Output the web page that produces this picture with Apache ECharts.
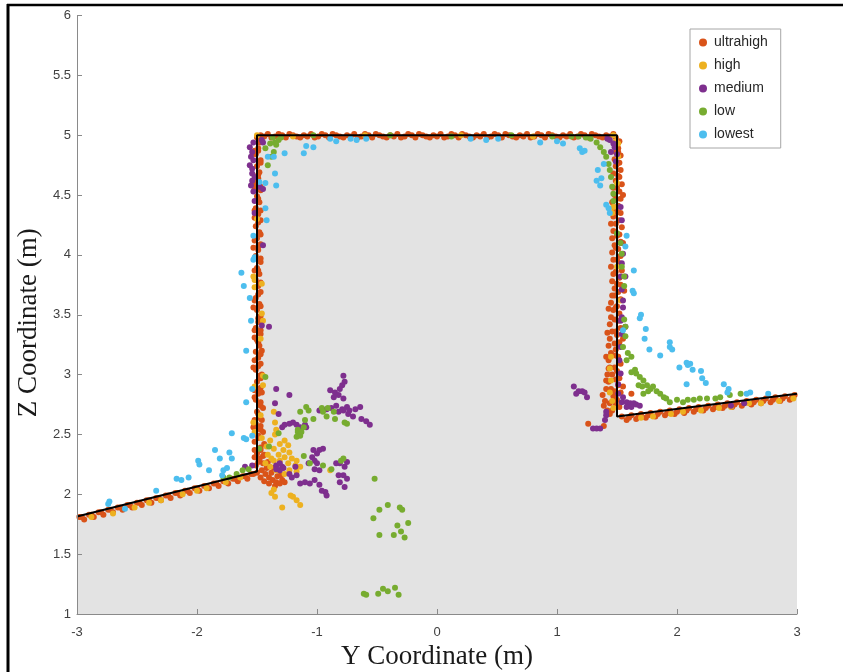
<!DOCTYPE html>
<html>
<head>
<meta charset="utf-8">
<script src="https://cdn.jsdelivr.net/npm/echarts@6/dist/echarts.min.js"></script>
<style>
  html, body { margin: 0; padding: 0; background: #fff; }
  #chart { width: 843px; height: 672px; }
</style>
</head>
<body>
<div id="chart"></div>
<script>
// Detection levels shown in the legend, in drawing order
const seriesNames = ['ultrahigh', 'high', 'medium', 'low', 'lowest'];
const seriesColors = ['#D95319', '#EDB120', '#7E2F8E', '#77AC30', '#4DBEEE'];

// Surface profile (Y, Z) in metres
const outlineY = [-3, -1.5, -1.5, 1.5, 1.5, 3];
const outlineZ = [1.815, 2.19, 5.0, 5.0, 2.65, 2.84];
const floorZ = 1;

// Axis ticks
const yTicks = [-3, -2, -1, 0, 1, 2, 3];
const zTicks = [1, 1.5, 2, 2.5, 3, 3.5, 4, 4.5, 5, 5.5, 6];

// Measured points [Y, Z]
const ultrahigh = [
  // left slope
  [-2.98,1.81],[-2.90,1.83],[-2.82,1.85],[-2.74,1.87],[-2.66,1.89],[-2.58,1.91],[-2.50,1.93],[-2.42,1.95],[-2.34,1.97],[-2.26,1.99],
  [-2.18,2.01],[-2.10,2.03],[-2.02,2.05],[-1.94,2.07],[-1.86,2.09],[-1.78,2.11],[-1.70,2.13],[-1.62,2.15],[-1.55,2.17],
  [-2.94,1.79],[-2.86,1.81],[-2.78,1.83],[-2.70,1.85],[-2.62,1.87],[-2.54,1.89],[-2.46,1.91],[-2.38,1.93],[-2.30,1.95],[-2.22,1.97],
  [-2.14,1.99],[-2.06,2.01],[-1.98,2.03],[-1.90,2.05],[-1.82,2.07],[-1.74,2.09],[-1.66,2.11],[-1.58,2.13],
  [-2.96,1.81],[-2.88,1.83],[-2.80,1.85],[-2.72,1.87],[-2.64,1.89],[-2.56,1.91],[-2.48,1.93],[-2.40,1.95],[-2.32,1.97],[-2.24,1.99],
  [-2.16,2.01],[-2.08,2.03],[-2.00,2.05],[-1.92,2.07],[-1.84,2.09],[-1.76,2.11],[-1.68,2.13],[-1.60,2.15],
  // left wall
  [-1.51,2.24],[-1.48,2.29],[-1.50,2.34],[-1.47,2.39],[-1.52,2.44],[-1.49,2.49],[-1.47,2.54],[-1.51,2.59],[-1.48,2.64],[-1.50,2.69],
  [-1.47,2.74],[-1.51,2.79],[-1.49,2.84],[-1.47,2.89],[-1.50,2.94],[-1.48,2.99],[-1.51,3.04],[-1.47,3.09],[-1.49,3.14],[-1.51,3.19],
  [-1.48,3.24],[-1.50,3.29],[-1.47,3.34],[-1.51,3.39],[-1.49,3.44],[-1.47,3.49],[-1.50,3.54],[-1.48,3.59],[-1.51,3.64],[-1.47,3.69],
  [-1.49,3.74],[-1.51,3.79],[-1.48,3.84],[-1.50,3.89],[-1.47,3.94],[-1.51,3.99],[-1.49,4.04],[-1.47,4.09],[-1.50,4.14],[-1.48,4.19],
  [-1.51,4.24],[-1.47,4.29],[-1.49,4.34],[-1.51,4.39],[-1.48,4.44],[-1.50,4.49],[-1.47,4.54],[-1.51,4.59],[-1.49,4.64],[-1.48,4.69],
  [-1.50,4.74],[-1.47,4.79],[-1.51,4.84],[-1.49,4.89],[-1.48,4.94],[-1.50,4.98],
  [-1.49,2.27],[-1.47,2.37],[-1.49,2.47],[-1.47,2.57],[-1.49,2.67],[-1.47,2.77],[-1.49,2.87],[-1.47,2.97],[-1.49,3.07],[-1.47,3.17],
  [-1.49,3.27],[-1.47,3.37],[-1.49,3.47],[-1.47,3.57],[-1.49,3.67],[-1.47,3.77],[-1.49,3.87],[-1.47,3.97],[-1.49,4.07],[-1.47,4.17],
  [-1.49,4.27],[-1.47,4.37],[-1.49,4.47],[-1.47,4.57],[-1.49,4.67],[-1.47,4.77],[-1.49,4.87],[-1.47,4.97],
  [-1.45,2.32],[-1.44,2.42],[-1.45,2.52],[-1.46,2.62],[-1.45,2.72],[-1.46,2.85],[-1.46,3.00],[-1.46,3.20],
  [-1.52,2.31],[-1.53,2.56],[-1.52,2.81],[-1.53,3.06],[-1.52,3.31],[-1.53,3.56],[-1.52,3.81],[-1.53,4.06],[-1.52,4.31],[-1.52,4.56],
  [-1.52,2.37],[-1.52,2.62],[-1.52,2.87],[-1.52,3.12],[-1.52,3.37],[-1.52,3.62],[-1.52,3.87],[-1.52,4.12],[-1.52,4.37],[-1.52,4.62],
  [-1.52,4.87],
  // left foot
  [-1.46,2.20],[-1.43,2.17],[-1.40,2.14],[-1.37,2.12],[-1.34,2.10],[-1.31,2.09],[-1.29,2.12],[-1.33,2.15],[-1.38,2.18],[-1.42,2.22],
  [-1.45,2.26],[-1.41,2.27],[-1.36,2.22],[-1.47,2.14],[-1.44,2.11],[-1.40,2.09],[-1.35,2.07],[-1.30,2.16],[-1.27,2.10],[-1.32,2.20],
  [-1.48,2.30],[-1.44,2.33],[-1.50,2.18],[-1.53,2.17],
  // top
  [-1.47,5.00],[-1.41,5.01],[-1.35,4.99],[-1.29,5.00],[-1.23,5.01],[-1.17,4.99],[-1.11,5.00],[-1.05,5.01],[-0.99,4.99],[-0.93,5.00],
  [-0.87,5.01],[-0.81,4.99],[-0.75,5.00],[-0.69,5.01],[-0.63,4.99],[-0.57,5.00],[-0.51,5.01],[-0.45,4.99],[-0.39,5.00],[-0.33,5.01],
  [-0.27,4.99],[-0.21,5.00],[-0.15,5.01],[-0.09,4.99],[-0.03,5.00],[0.03,5.01],[0.09,4.99],[0.15,5.00],[0.21,5.01],[0.27,4.99],
  [0.33,5.00],[0.39,5.01],[0.45,4.99],[0.51,5.00],[0.57,5.01],[0.63,4.99],[0.69,5.00],[0.75,5.01],[0.81,4.99],[0.87,5.00],
  [0.93,5.01],[0.99,4.99],[1.05,5.00],[1.11,5.01],[1.17,4.99],[1.23,5.00],[1.29,5.01],[1.35,4.99],[1.41,5.00],[1.47,5.01],
  [-1.44,4.99],[-1.32,5.01],[-1.20,5.00],[-1.08,4.99],[-0.96,5.01],[-0.84,5.00],[-0.72,4.99],[-0.60,5.01],[-0.48,5.00],[-0.36,4.99],
  [-0.24,5.01],[-0.12,5.00],[0.00,4.99],[0.12,5.01],[0.24,5.00],[0.36,4.99],[0.48,5.01],[0.60,5.00],[0.72,4.99],[0.84,5.01],
  [0.96,5.00],[1.08,4.99],[1.20,5.01],[1.32,5.00],[1.44,4.99],
  [-1.38,4.98],[-1.26,4.98],[-1.14,4.98],[-1.02,4.98],[-0.90,4.98],[-0.78,4.98],[-0.66,4.98],[-0.54,4.98],[-0.42,4.98],[-0.30,4.98],
  [-0.18,4.98],[-0.06,4.98],[0.06,4.98],[0.18,4.98],[0.30,4.98],[0.42,4.98],[0.54,4.98],[0.66,4.98],[0.78,4.98],[0.90,4.98],
  [1.02,4.98],[1.14,4.98],[1.26,4.98],[1.38,4.98],
  // right wall
  [1.46,2.70],[1.44,2.76],[1.47,2.82],[1.45,2.88],[1.43,2.94],[1.46,3.00],[1.44,3.06],[1.43,3.12],[1.45,3.18],[1.43,3.24],
  [1.44,3.30],[1.46,3.36],[1.44,3.42],[1.45,3.48],[1.47,3.54],[1.45,3.60],[1.46,3.66],[1.48,3.72],[1.46,3.78],[1.47,3.84],
  [1.45,3.90],[1.47,3.96],[1.46,4.02],[1.48,4.08],[1.46,4.14],[1.47,4.20],[1.45,4.26],[1.47,4.32],[1.48,4.38],[1.46,4.44],
  [1.48,4.50],[1.47,4.56],[1.49,4.62],[1.47,4.68],[1.49,4.74],[1.48,4.80],[1.49,4.86],[1.48,4.92],[1.49,4.98],
  [1.52,2.73],[1.50,2.79],[1.53,2.85],[1.51,2.91],[1.52,2.97],[1.50,3.03],[1.53,3.09],[1.51,3.15],[1.49,3.21],[1.52,3.27],
  [1.50,3.33],[1.53,3.39],[1.51,3.45],[1.52,3.51],[1.50,3.57],[1.53,3.63],[1.51,3.69],[1.53,3.75],[1.52,3.81],[1.54,3.87],
  [1.52,3.93],[1.53,3.99],[1.51,4.05],[1.53,4.11],[1.52,4.17],[1.54,4.23],[1.52,4.29],[1.53,4.35],[1.51,4.41],[1.53,4.47],
  [1.52,4.53],[1.54,4.59],[1.52,4.65],[1.53,4.71],[1.52,4.77],[1.53,4.83],[1.51,4.89],[1.52,4.95],
  [1.49,2.76],[1.48,2.86],[1.49,2.96],[1.48,3.06],[1.49,3.16],[1.48,3.26],[1.49,3.36],[1.48,3.46],[1.49,3.56],[1.48,3.66],
  [1.50,3.76],[1.49,3.86],[1.50,3.96],[1.49,4.06],[1.50,4.16],[1.49,4.26],[1.50,4.36],[1.49,4.46],[1.50,4.56],[1.51,4.66],
  [1.50,4.76],[1.51,4.86],[1.50,4.94],
  [1.55,2.90],[1.55,3.30],[1.56,3.70],[1.55,4.10],[1.55,4.50],
  [1.40,2.78],[1.38,2.83],[1.41,2.88],[1.39,2.74],[1.42,2.70],[1.44,2.67],[1.41,2.95],[1.43,3.05],
  [1.42,3.00],[1.41,3.15],[1.42,3.35],[1.43,3.55],
  // right slope
  [1.54,2.65],[1.62,2.66],[1.70,2.67],[1.78,2.68],[1.86,2.69],[1.94,2.70],[2.02,2.71],[2.10,2.72],[2.18,2.73],[2.26,2.74],
  [2.34,2.75],[2.42,2.76],[2.50,2.77],[2.58,2.78],[2.66,2.79],[2.74,2.80],[2.82,2.81],[2.90,2.82],[2.98,2.83],
  [1.58,2.62],[1.66,2.63],[1.74,2.64],[1.82,2.65],[1.90,2.66],[1.98,2.67],[2.06,2.68],[2.14,2.69],[2.22,2.70],[2.30,2.71],
  [2.38,2.72],[2.46,2.73],[2.54,2.74],[2.62,2.75],[2.70,2.76],[2.78,2.77],[2.86,2.78],[2.94,2.79],
  [1.60,2.64],[1.68,2.65],[1.76,2.66],[1.84,2.67],[1.92,2.68],[2.00,2.69],[2.08,2.70],[2.16,2.71],[2.24,2.72],[2.32,2.73],
  [2.40,2.74],[2.48,2.75],[2.56,2.76],[2.64,2.77],[2.72,2.78],[2.80,2.79],[2.88,2.80],[2.96,2.81],
  // isolated
  [1.26,2.59],[1.39,2.57],[1.62,2.84]
];

const high = [
  // left slope
  [-2.88,1.81],[-2.70,1.84],[-2.52,1.89],[-2.40,1.93],[-2.30,1.95],[-2.12,2.00],[-2.00,2.03],[-1.92,2.05],[-1.76,2.10],[-1.64,2.14],
  // left wall
  [-1.53,3.82],[-1.52,3.79],[-1.52,3.73],[-1.46,3.76],[-1.45,3.45],[-1.46,3.51],[-1.52,2.52],[-1.53,2.60],[-1.47,2.66],[-1.52,2.90],
  [-1.46,2.47],[-1.50,4.30],[-1.47,3.30],[-1.45,2.99],[-1.45,2.91],[-1.50,5.00],
  // left foot
  [-1.36,2.69],[-1.35,2.60],[-1.34,2.54],[-1.39,2.45],[-1.42,2.40],[-1.36,2.38],[-1.31,2.42],[-1.27,2.45],[-1.24,2.41],[-1.28,2.37],
  [-1.23,2.35],[-1.32,2.33],[-1.27,2.31],[-1.21,2.30],[-1.17,2.28],[-1.14,2.23],[-1.18,2.24],[-1.24,2.26],[-1.31,2.28],[-1.36,2.28],
  [-1.39,2.23],[-1.34,2.20],[-1.23,2.20],[-1.17,2.19],[-1.27,2.17],[-1.38,2.30],[-1.41,2.33],[-1.43,2.26],[-1.35,2.50],
  [-1.38,2.01],[-1.35,1.98],[-1.29,1.89],[-1.20,1.98],[-1.17,1.95],[-1.14,1.91],[-1.22,1.99],[-1.36,2.04],[-0.89,2.20],
  // top
  [-1.20,4.99],[-0.60,5.00],[0.20,5.00],[0.80,4.99],[1.49,4.95],[1.47,5.00],[1.51,4.93],[1.51,4.82],
  // right wall
  [1.47,4.40],[1.46,4.35],[1.53,3.62],[1.45,3.15],[1.44,3.05],[1.45,2.95],[1.44,2.85],[1.46,2.78],[1.47,2.72],[1.50,3.90],[1.50,4.60],
  // right slope
  [1.70,2.64],[1.80,2.65],[1.95,2.67],[2.05,2.69],[2.20,2.70],[2.35,2.72],[2.45,2.73],[2.60,2.76],[2.70,2.76],[2.85,2.78],[2.97,2.80]
];

const medium = [
  // left wall
  [-1.56,4.90],[-1.54,4.86],[-1.55,4.82],[-1.53,4.79],[-1.56,4.75],[-1.54,4.72],[-1.54,4.68],[-1.52,4.65],[-1.54,4.62],[-1.53,4.53],
  [-1.48,4.57],[-1.45,4.55],[-1.46,4.96],[-1.45,4.94],[-1.53,4.94],[-1.52,4.35],[-1.45,4.08],[-1.46,3.41],[-1.40,3.40],[-1.55,4.58],[-1.52,4.45],
  // left foot
  [-1.60,2.23],[-1.54,2.24],
  [-1.34,2.88],[-1.23,2.83],[-1.35,2.76],[-1.32,2.67],
  [-1.29,2.56],[-1.27,2.58],[-1.23,2.59],[-1.20,2.60],[-1.17,2.58],[-1.14,2.56],[-1.10,2.58],[-1.09,2.56],
  [-0.78,2.99],[-0.77,2.94],[-0.79,2.91],[-0.81,2.88],[-0.85,2.85],[-0.89,2.87],[-0.82,2.83],[-0.86,2.81],[-0.78,2.80],
  [-0.98,2.70],[-0.92,2.71],[-0.88,2.72],[-0.84,2.74],[-0.79,2.71],[-0.75,2.73],[-0.73,2.70],[-0.68,2.71],[-0.64,2.73],[-0.70,2.65],
  [-0.63,2.63],[-0.59,2.61],[-0.56,2.58],[-0.82,2.69],[-0.78,2.70],[-0.74,2.67],
  [-1.03,2.37],[-0.98,2.37],[-0.95,2.38],[-1.04,2.31],[-1.00,2.34],[-1.02,2.28],[-1.07,2.26],[-1.00,2.26],[-1.02,2.21],[-0.98,2.20],
  [-0.81,2.26],[-0.77,2.23],[-0.75,2.13],[-0.82,2.16],[-0.77,2.06],[-0.84,2.26],[-0.75,2.27],[-0.78,2.16],[-0.81,2.10],
  [-1.21,2.14],[-1.17,2.16],[-1.14,2.09],[-1.10,2.10],[-1.06,2.09],[-1.02,2.12],[-0.98,2.08],[-0.93,2.02],[-0.92,1.99],[-0.96,2.03],
  [-1.23,2.17],[-1.18,2.23],[-1.29,2.23],[-1.34,2.24],[-1.31,2.26],[-1.28,2.22],[-1.31,2.20],[-1.34,2.21],
  // right wall
  [1.42,4.97],[1.45,4.86],[1.50,4.84],[1.49,4.78],
  [1.44,4.96],[1.47,4.93],[1.48,4.90],[1.53,4.40],[1.54,4.29],[1.53,4.10],[1.55,4.01],[1.57,3.82],[1.55,3.62],[1.54,3.48],[1.57,3.40],
  [1.54,3.93],[1.53,3.82],[1.54,3.71],[1.55,3.56],[1.53,3.45],[1.54,3.34],[1.53,3.23],[1.52,3.12],[1.53,3.01],[1.51,2.92],
  [1.55,2.81],[1.51,2.84],[1.54,2.77],
  // right foot
  [1.58,2.77],[1.61,2.76],[1.64,2.76],[1.66,2.75],[1.69,2.74],[1.58,2.73],[1.62,2.73],
  [1.14,2.90],[1.18,2.86],[1.21,2.86],[1.23,2.85],[1.25,2.81],[1.16,2.84],
  [1.30,2.55],[1.33,2.55],[1.36,2.55],[1.40,2.62],[1.41,2.66],[1.41,2.69],
  [2.45,2.74],[2.56,2.76]
];

const low = [
  // upper left corner
  [-1.39,4.93],[-1.35,4.94],[-1.32,4.96],[-1.34,4.92],[-1.36,4.86],[-1.38,4.82],[-1.41,4.75],[-1.43,4.89],[-1.37,4.98],[-1.30,4.98],
  // top
  [-1.03,5.00],[-0.39,5.00],[0.12,4.99],[0.62,5.00],[0.96,4.99],
  // upper right corner and right wall
  [1.12,4.99],[1.18,4.99],[1.24,4.98],[1.28,4.97],[1.33,4.94],[1.36,4.90],[1.39,4.86],[1.41,4.82],[1.43,4.76],[1.44,4.71],
  [1.45,4.65],[1.46,4.57],[1.47,4.51],[1.47,4.45],[1.50,4.18],[1.53,4.10],[1.54,4.01],[1.54,3.90],[1.56,3.82],[1.56,3.74],
  [1.56,3.46],[1.57,3.40],
  // right foot
  [1.57,3.32],[1.55,3.23],[1.59,3.18],[1.62,3.15],[1.58,3.12],[1.65,3.04],[1.62,3.02],[1.66,3.01],[1.69,2.98],[1.72,2.95],
  [1.68,2.91],[1.71,2.90],[1.75,2.91],[1.78,2.88],[1.80,2.90],[1.83,2.86],[1.86,2.84],[1.89,2.81],[1.91,2.80],[1.94,2.77],
  [1.72,2.84],[1.76,2.86],[2.00,2.79],[2.05,2.77],[2.09,2.79],[2.14,2.79],[2.19,2.80],[2.25,2.80],[2.32,2.80],[2.36,2.81],
  [2.44,2.83],[2.53,2.84],
  // left foot
  [-1.43,2.98],[-1.14,2.69],[-1.09,2.73],[-1.07,2.70],[-1.03,2.63],[-1.10,2.62],[-1.16,2.52],[-1.14,2.49],[-1.17,2.48],[-1.11,2.56],
  [-0.96,2.72],[-0.95,2.69],[-0.92,2.65],[-0.91,2.72],[-0.86,2.69],[-0.75,2.59],[-0.85,2.63],[-1.32,2.51],[-1.40,2.40],[-1.48,2.38],
  [-1.06,2.26],[-0.95,2.24],[-0.88,2.21],[-0.80,2.28],[-0.78,2.30],[-0.52,2.13],[-1.11,2.32],[-1.16,2.54],[-1.13,2.52],[-0.77,2.60],
  [-1.67,2.17],[-1.62,2.20],[-1.57,2.21],[-1.73,2.14],[-1.78,2.14],
  // scattered below
  [-0.53,1.80],[-0.48,1.87],[-0.41,1.91],[-0.31,1.89],[-0.29,1.87],[-0.24,1.76],[-0.33,1.74],[-0.27,1.64],[-0.30,1.69],[-0.48,1.66],
  [-0.36,1.66],
  [-0.61,1.17],[-0.59,1.16],[-0.49,1.17],[-0.45,1.21],[-0.41,1.19],[-0.35,1.22],[-0.32,1.16]
];

const lowest = [
  // outside the left wall
  [-1.63,3.85],[-1.61,3.74],[-1.56,3.64],[-1.55,3.45],[-1.53,3.96],[-1.52,3.98],[-1.53,4.16],[-1.59,3.20],[-1.54,2.88],[-1.59,2.77],
  [-1.54,2.49],[-1.61,2.47],[-1.59,2.46],[-1.71,2.51],[-1.73,2.35],[-1.71,2.30],[-1.85,2.37],[-1.81,2.30],[-1.99,2.28],[-1.98,2.25],
  [-1.90,2.20],[-1.78,2.20],[-1.75,2.22],[-1.79,2.16],[-2.17,2.13],[-2.07,2.14],[-2.13,2.12],[-2.34,2.03],[-2.73,1.94],[-2.74,1.92],
  [-2.60,1.88],
  // inside, upper left
  [-1.48,4.61],[-1.43,4.60],[-1.35,4.68],[-1.34,4.58],[-1.43,4.39],[-1.42,4.29],[-1.41,4.82],[-1.36,4.82],[-1.27,4.85],[-1.11,4.85],
  [-1.09,4.91],[-1.03,4.90],[-0.89,4.97],[-0.84,4.95],[-0.72,4.97],[-0.67,4.96],[-0.59,4.97],
  // along the top
  [0.28,4.97],[0.41,4.96],[0.51,4.97],[0.86,4.94],[1.00,4.95],[1.05,4.93],[1.19,4.89],[1.21,4.86],[1.23,4.87],
  // inside, upper right
  [1.39,4.76],[1.34,4.71],[1.33,4.62],[1.37,4.64],[1.36,4.58],[1.41,4.42],[1.43,4.39],[1.44,4.35],
  // outside the right wall
  [1.58,4.16],[1.57,4.07],[1.64,3.87],[1.63,3.70],[1.64,3.68],[1.70,3.50],[1.69,3.47],[1.74,3.38],[1.73,3.30],[1.77,3.21],
  [1.86,3.16],[1.94,3.27],[1.94,3.23],[1.96,3.21],[2.02,3.06],[2.08,3.10],[2.09,3.08],[2.11,3.09],[2.13,3.04],[2.20,3.03],
  [2.21,2.97],[2.24,2.93],[2.08,2.92],[2.39,2.92],[2.43,2.88],[2.42,2.85],[2.58,2.84],[2.61,2.85],[2.76,2.84],[1.55,3.37]
];

const seriesData = [ultrahigh, high, medium, low, lowest];

// Outline as [Y, Z] pairs, and the filled solid beneath it
const outlinePts = outlineY.map((y, i) => [y, outlineZ[i]]);
const solidPts = outlinePts.concat([[outlineY[outlineY.length - 1], floorZ], [outlineY[0], floorZ]]);

const axisGray = '#8a8a8a';
const tickFont = 'Liberation Sans, Arial, sans-serif';
const titleFont = 'Liberation Serif, Times New Roman, serif';

const chart = echarts.init(document.getElementById('chart'), null, { renderer: 'canvas' });

const series = [
  {
    type: 'custom',
    silent: true,
    z: 1,
    data: [[0, floorZ]],
    renderItem: function (params, api) {
      return {
        type: 'polygon',
        shape: { points: solidPts.map(p => api.coord(p)) },
        style: { fill: '#e3e3e3' }
      };
    }
  }
];

seriesNames.forEach((name, i) => {
  series.push({
    name: name,
    type: 'scatter',
    data: seriesData[i],
    symbol: 'circle',
    symbolSize: 6,
    itemStyle: { color: seriesColors[i], opacity: 1 },
    z: 2,
    silent: true
  });
});

series.push({
  type: 'line',
  data: outlinePts,
  symbol: 'none',
  lineStyle: { color: '#000', width: 2 },
  z: 3,
  silent: true
});

chart.setOption({
  animation: false,
  backgroundColor: '#fff',
  grid: { left: 77, right: 46, top: 15.5, bottom: 58, containLabel: false, outerBoundsMode: 'none' },
  xAxis: {
    type: 'value',
    min: yTicks[0],
    max: yTicks[yTicks.length - 1],
    interval: 1,
    z: 5,
    name: 'Y Coordinate (m)',
    nameLocation: 'middle',
    nameGap: 27,
    nameTextStyle: { fontFamily: titleFont, fontSize: 27, color: '#1a1a1a' },
    axisLine: { onZero: false, lineStyle: { color: axisGray, width: 1 } },
    axisTick: { inside: true, length: 5, lineStyle: { color: axisGray } },
    axisLabel: { margin: 12, fontSize: 13, color: '#404040', fontFamily: tickFont },
    splitLine: { show: false }
  },
  yAxis: {
    type: 'value',
    min: zTicks[0],
    max: zTicks[zTicks.length - 1],
    interval: 0.5,
    z: 5,
    name: 'Z Coordinate (m)',
    nameLocation: 'middle',
    nameGap: 33,
    nameTextStyle: { fontFamily: titleFont, fontSize: 27, color: '#1a1a1a', padding: [0, 16, 0, 0] },
    axisLine: { onZero: false, lineStyle: { color: axisGray, width: 1 } },
    axisTick: { inside: true, length: 5, lineStyle: { color: axisGray } },
    axisLabel: { margin: 6, fontSize: 13, color: '#404040', fontFamily: tickFont },
    splitLine: { show: false }
  },
  legend: {
    data: seriesNames,
    orient: 'vertical',
    left: 690,
    top: 29,
    icon: 'circle',
    itemWidth: 8,
    itemHeight: 8,
    itemGap: 8,
    padding: [6, 13, 6, 9],
    backgroundColor: '#fff',
    borderColor: '#a6a6a6',
    borderWidth: 1,
    borderRadius: 0,
    textStyle: { fontSize: 14, color: '#262626', fontFamily: tickFont, lineHeight: 15, padding: [0, 0, 0, 2] }
  },
  graphic: [
    { type: 'line', shape: { x1: 7, y1: 5, x2: 843, y2: 5 }, style: { stroke: '#000', lineWidth: 2.5 }, silent: true },
    { type: 'line', shape: { x1: 8, y1: 4, x2: 8, y2: 672 }, style: { stroke: '#000', lineWidth: 3 }, silent: true }
  ],
  series: series
});
</script>
</body>
</html>
